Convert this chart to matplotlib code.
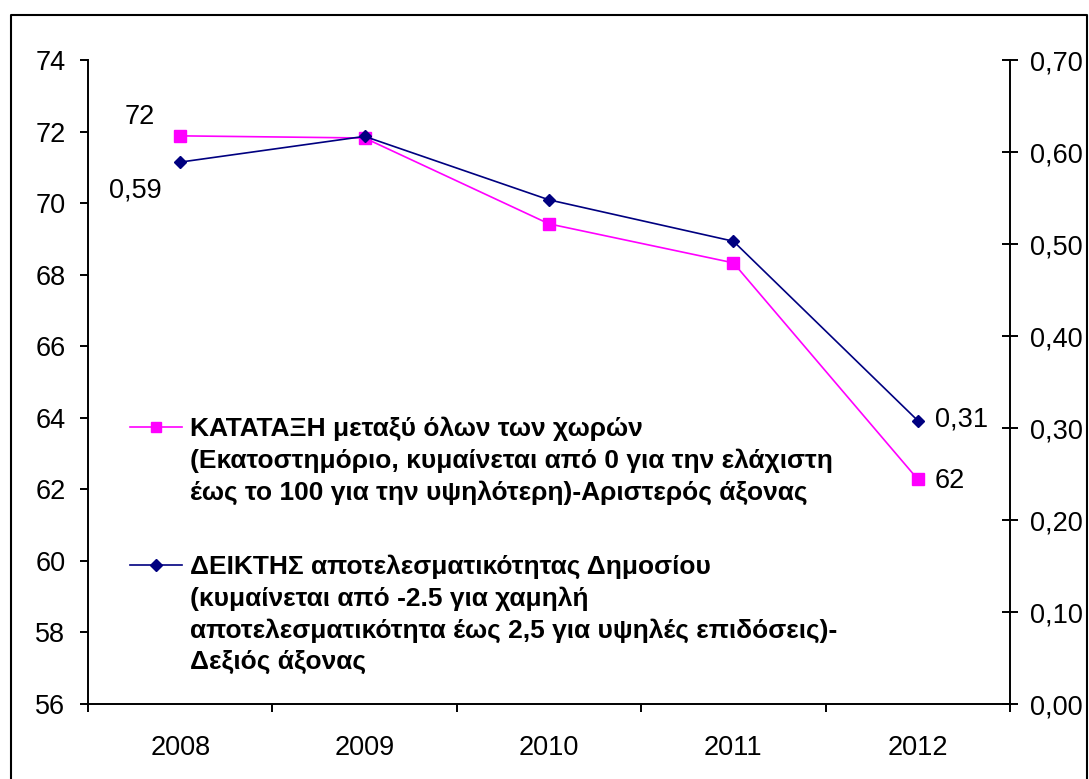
import matplotlib
matplotlib.use("Agg")
import matplotlib.pyplot as plt
from matplotlib.lines import Line2D
from matplotlib.ticker import FixedLocator, FuncFormatter

# data
years = ["2008", "2009", "2010", "2011", "2012"]
rank = [71.88, 71.82, 69.42, 68.33, 62.28]          # left axis
effect = [0.589, 0.617, 0.548, 0.503, 0.308]        # right axis

rank_label = ["ΚΑΤΑΤΑΞΗ μεταξύ όλων των χωρών",
              "(Εκατοστημόριο, κυμαίνεται από 0 για την ελάχιστη",
              "έως το 100 για την υψηλότερη)-Αριστερός άξονας"]
effect_label = ["ΔΕΙΚΤΗΣ αποτελεσματικότητας Δημοσίου",
                "(κυμαίνεται από -2.5 για χαμηλή",
                "αποτελεσματικότητα έως 2,5 για υψηλές επιδόσεις)-",
                "Δεξιός άξονας"]

PINK = "#FF00FF"
NAVY = "#000080"

plt.rcParams["font.family"] = ["Liberation Sans", "DejaVu Sans"]

W, H = 1089, 779
fig = plt.figure(figsize=(W / 100, H / 100), dpi=100)

# outer chart frame (left, top, right visible)
fx0, fx1, fy1 = 11 / W, 1087 / W, 1 - 15 / H
fig.add_artist(Line2D([fx0, fx0, fx1, fx1], [-0.01, fy1, fy1, -0.01],
                      transform=fig.transFigure, color="black", lw=1.5))

left, right, top, bottom = 88, 1010, 60, 704
ax = fig.add_axes([left / W, 1 - bottom / H, (right - left) / W, (bottom - top) / H])
ax2 = ax.twinx()

x = list(range(len(years)))
ax.plot(x, rank, color=PINK, lw=1.2, marker="s", ms=8, mec=PINK, zorder=3)
ax2.plot(x, effect, color=NAVY, lw=1.2, marker="D", ms=6.5, mec=NAVY, zorder=4)

ax.set_xlim(-0.5, len(years) - 0.5)
ax.set_ylim(56, 74)
ax2.set_ylim(0, 0.70)

ax.set_yticks(range(56, 75, 2))
ax2.set_yticks([i / 10 for i in range(8)])
ax2.yaxis.set_major_formatter(FuncFormatter(lambda v, p: f"{v:.2f}".replace(".", ",")))

# category ticks between the categories, labels in the middle
ax.xaxis.set_major_locator(FixedLocator([i - 0.5 for i in range(len(years) + 1)]))
ax.xaxis.set_minor_locator(FixedLocator(x))
ax.set_xticklabels([], minor=False)
ax.set_xticklabels(years, minor=True)

fs = 19.5
ax.tick_params(axis="x", which="major", direction="out", length=8 * 0.72, width=1.4)
ax.tick_params(axis="x", which="minor", length=0, pad=22, labelsize=fs)
ax.tick_params(axis="y", direction="out", length=8 * 0.72, width=1.4, pad=10.5, labelsize=fs)
ax2.tick_params(axis="y", direction="inout", length=16 * 0.72, width=1.4, pad=8.6, labelsize=fs)

for a in (ax, ax2):
    a.spines["top"].set_visible(False)
    for s in ("left", "right", "bottom"):
        a.spines[s].set_linewidth(1.4)
ax.spines["right"].set_visible(False)
ax2.spines["left"].set_visible(False)
ax2.spines["bottom"].set_visible(False)

# data labels
def dec(v, n):
    return f"{v:.{n}f}".replace(".", ",")

ax.annotate(f"{rank[0]:.0f}", (x[0], rank[0]), xytext=(-40, 19), textcoords="offset pixels",
            ha="center", va="center", fontsize=fs)
ax2.annotate(dec(effect[0], 2), (x[0], effect[0]), xytext=(-45, -28), textcoords="offset pixels",
             ha="center", va="center", fontsize=fs)
ax2.annotate(dec(effect[-1], 2), (x[-1], effect[-1]), xytext=(17, 1), textcoords="offset pixels",
             ha="left", va="center", fontsize=fs)
ax.annotate(f"{rank[-1]:.0f}", (x[-1], rank[-1]), xytext=(17, -2), textcoords="offset pixels",
            ha="left", va="center", fontsize=fs)

# legend drawn by hand so the key sits on the first text line
def ax_xy(px, py):
    return (px - left) / (right - left), (bottom - py) / (bottom - top)

lfs = 19
step = 31.7
for (py, base), col, mk, ms, lines in [((427, 436), PINK, "s", 7.5, rank_label),
                                        ((565, 574), NAVY, "D", 6.5, effect_label)]:
    x0, y0 = ax_xy(130, py)
    x1, _ = ax_xy(182, py)
    xm, _ = ax_xy(156, py)
    ax2.add_line(Line2D([x0, x1], [y0, y0], transform=ax2.transAxes, color=col, lw=1.2,
                        clip_on=False))
    ax2.add_line(Line2D([xm], [y0], transform=ax2.transAxes, color=col, marker=mk, ms=ms,
                        mec=col, clip_on=False))
    for i, line in enumerate(lines):
        tx, ty = ax_xy(190, base + i * step)
        ax2.text(tx, ty, line, transform=ax2.transAxes, ha="left", va="baseline",
                 fontsize=lfs, fontweight="bold")

fig.savefig("out.png", dpi=100)
